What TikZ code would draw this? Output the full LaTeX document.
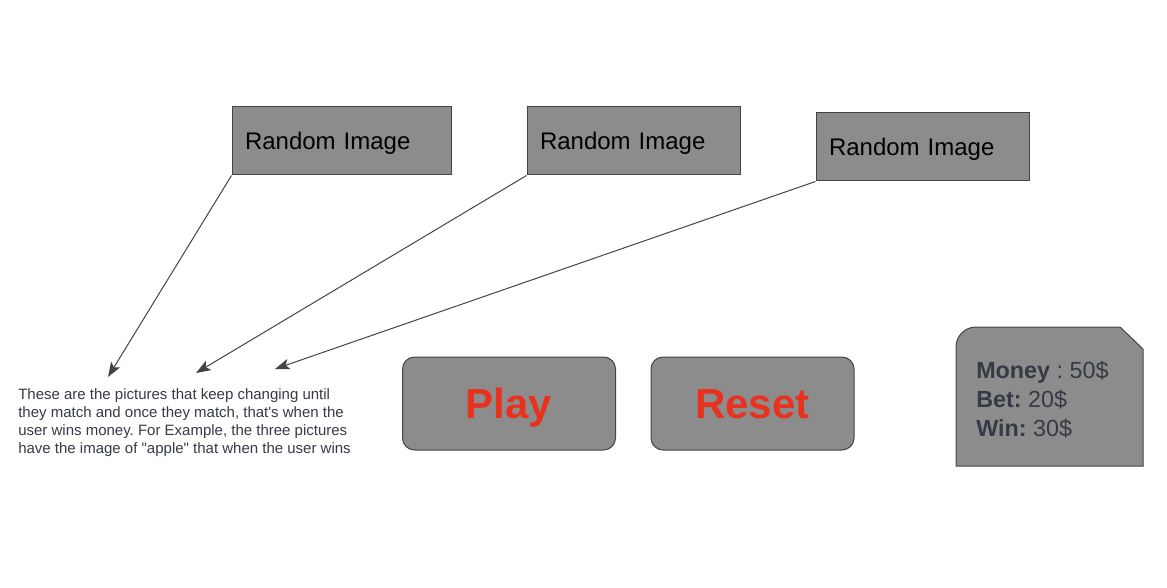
\documentclass[tikz,border=0pt]{standalone}
\usepackage{fontspec}
\setmainfont{Liberation Sans}
\usepackage{tikz}
\usetikzlibrary{shapes,arrows,arrows.meta}
\definecolor{boxgray}{HTML}{8C8C8C}
\definecolor{edgegray}{HTML}{444444}
\definecolor{btnred}{HTML}{E8321E}
\definecolor{slate}{HTML}{353A44}
\frenchspacing

\begin{document}
\begin{tikzpicture}[x=0.75pt, y=-0.75pt,
  imgbox/.style={draw=edgegray, fill=boxgray, line width=0.75pt, text width=#1, inner xsep=9.75pt, minimum height=51pt, text height=12.9pt, text depth=0pt, align=left, font=\fontsize{18}{22}\selectfont},
  button/.style={draw=edgegray, fill=boxgray, line width=0.75pt, rounded corners=9pt, minimum width=#1, minimum height=69.75pt, text height=22.5pt, text depth=0pt, text=btnred, font=\fontsize{31.5}{36}\selectfont\bfseries},
  pointer/.style={-{Stealth[length=11pt, width=8pt, inset=2.5pt]}, draw=edgegray, line width=0.75pt}]
\useasboundingbox (0,0) rectangle (1167,588);
% the three random images
\foreach \i/\x/\y/\w/\ex/\ey in {1/341.5/141/144.75pt/108/377, 2/633.5/141/140.25pt/196/373, 3/922.5/147/140.25pt/275/369} {
    \coordinate (tip\i) at (\ex,\ey);
    \node[imgbox=\w] (img\i) at (\x,\y) {Random Image};
    \draw[pointer] (img\i.south west) -- (tip\i);
}
% explanation under the arrows
\node[anchor=base west, align=left, inner sep=0, text=slate, font=\fontsize{11.25}{13.3}\selectfont] (note) at (18,453) {These are the pictures that keep changing until\\they match and once they match, that\textquotesingle s when the\\user wins money. For Example, the three pictures\\have the image of \textquotedbl apple\textquotedbl{} that when the user wins};
% buttons
\node[button=159.75pt] (play) at (509,403.5) {Play};
\node[button=152.25pt] (reset) at (752.5,403.5) {Reset};
% money panel
\draw[draw=edgegray, fill=boxgray, line width=0.75pt] (956,466) -- (956,347) arc[start angle=180, end angle=270, radius=20] -- (1120,327) -- (1143,349) -- (1143,466) -- cycle;
\node[anchor=base west, align=left, inner sep=0, text=slate, font=\fontsize{17.5}{21.4}\selectfont] (money) at (976,436) {\textbf{Money} : 50\$\\\textbf{Bet:} 20\$\\\textbf{Win:} 30\$};
\end{tikzpicture}
\end{document}
